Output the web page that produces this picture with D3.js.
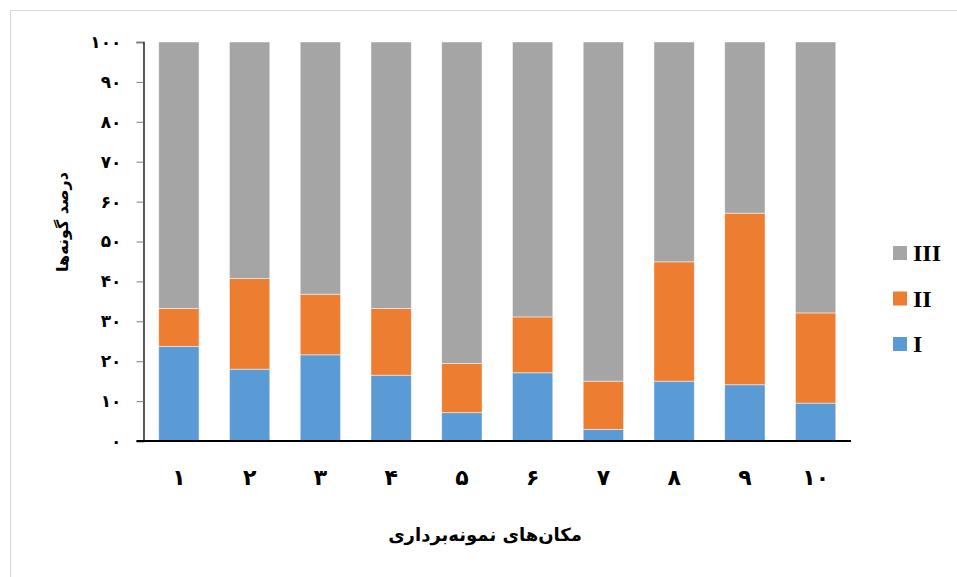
<!DOCTYPE html>
<html>
<head>
<meta charset="utf-8">
<script src="https://cdn.jsdelivr.net/npm/d3@7"></script>
<style>
    body { margin: 0; background: #fff; }
    svg { display: block; }
    .fa { font-family: "DejaVu Sans", sans-serif; font-weight: bold; }
</style>
</head>
<body>
<div id="chart"></div>
<script>
// sampling sites 1..10 (Persian digits)
const categories = ['۱', '۲', '۳', '۴', '۵', '۶', '۷', '۸', '۹', '۱۰'];
const seriesNames = ['I', 'II', 'III'];
const seriesI = [23.7, 18.0, 21.6, 16.5, 7.1, 17.1, 2.9, 15.0, 14.1, 9.5];
const seriesII = [9.5, 22.7, 15.2, 16.7, 12.3, 14.0, 12.1, 29.9, 43.0, 22.6];
const seriesIII = [66.8, 59.3, 63.2, 66.8, 80.6, 68.9, 85.0, 55.1, 42.9, 67.9];
const yTicks = [0, 10, 20, 30, 40, 50, 60, 70, 80, 90, 100];
const colors = { I: '#5b9bd5', II: '#ed7d31', III: '#a5a5a5' };

const toFa = n => String(n).replace(/\d/g, d => '۰۱۲۳۴۵۶۷۸۹'[d]);

function drawChart() {
    const width = 957;
    const height = 577;
    const margin = { top: 42, left: 143.5, right: 106, bottom: 136 };

    const svg = d3.select('#chart')
        .append('svg')
        .attr('width', width)
        .attr('height', height);

    // chart frame
    svg.append('rect')
        .attr('x', 10.5).attr('y', 10.5)
        .attr('width', 960).attr('height', 580)
        .attr('fill', 'none')
        .attr('stroke', '#d9d9d9');

    const rows = categories.map((c, i) => ({
        cat: c, I: seriesI[i], II: seriesII[i], III: seriesIII[i]
    }));
    const stacked = d3.stack().keys(seriesNames)(rows);

    const x = d3.scaleBand()
        .domain(categories)
        .range([margin.left, width - margin.right])
        .paddingInner(0.43)
        .paddingOuter(0.215);

    const y = d3.scaleLinear()
        .domain([0, 100])
        .range([height - margin.bottom, margin.top]);

    const layers = svg.append('g').selectAll('g')
        .data(stacked)
        .join('g')
        .attr('fill', d => colors[d.key]);

    layers.selectAll('rect')
        .data(d => d)
        .join('rect')
        .attr('x', d => x(d.data.cat))
        .attr('y', d => y(d[1]))
        .attr('width', x.bandwidth())
        .attr('height', d => y(d[0]) - y(d[1]))
        .attr('stroke', '#fff')
        .attr('stroke-opacity', 0.6)
        .attr('stroke-width', 0.8);

    // y axis
    const yAxis = svg.append('g')
        .attr('transform', `translate(${margin.left},0)`)
        .call(d3.axisLeft(y).tickValues(yTicks).tickSize(7).tickPadding(15).tickFormat(toFa));
    yAxis.select('.domain').attr('stroke', '#000').attr('stroke-width', 1.3);
    yAxis.selectAll('.tick line').attr('stroke', '#7f7f7f');
    yAxis.selectAll('text')
        .attr('class', 'fa')
        .attr('font-size', 17)
        .attr('fill', '#000');

    // x axis
    const xAxis = svg.append('g')
        .attr('transform', `translate(0,${y(0)})`)
        .call(d3.axisBottom(x).tickSize(0).tickPadding(28));
    xAxis.select('.domain').remove();
    xAxis.selectAll('text')
        .attr('class', 'fa')
        .attr('font-size', 22)
        .attr('fill', '#000');
    svg.append('line')
        .attr('x1', margin.left - 7).attr('x2', width - margin.right)
        .attr('y1', y(0)).attr('y2', y(0))
        .attr('stroke', '#000').attr('stroke-width', 2);

    // axis titles
    svg.append('text')
        .attr('class', 'fa')
        .attr('x', 485)
        .attr('y', 541)
        .attr('text-anchor', 'middle')
        .attr('direction', 'rtl')
        .attr('font-size', 18)
        .text('مکان‌های نمونه‌برداری');

    svg.append('text')
        .attr('class', 'fa')
        .attr('transform', 'translate(68,222) rotate(-90)')
        .attr('text-anchor', 'middle')
        .attr('direction', 'rtl')
        .attr('font-size', 16)
        .text('درصد گونه‌ها');

    // legend
    const legend = svg.append('g')
        .selectAll('g')
        .data(seriesNames.slice().reverse())
        .join('g')
        .attr('transform', (d, i) => `translate(893,${246 + i * 45.5})`);

    legend.append('rect')
        .attr('width', 14).attr('height', 14)
        .attr('fill', d => colors[d]);

    legend.append('text')
        .attr('x', 20)
        .attr('y', 15)
        .attr('font-family', '"Liberation Serif", serif')
        .attr('font-weight', 'bold')
        .attr('font-size', 24)
        .text(d => d);
}

window.onload = drawChart;
</script>
</body>
</html>
